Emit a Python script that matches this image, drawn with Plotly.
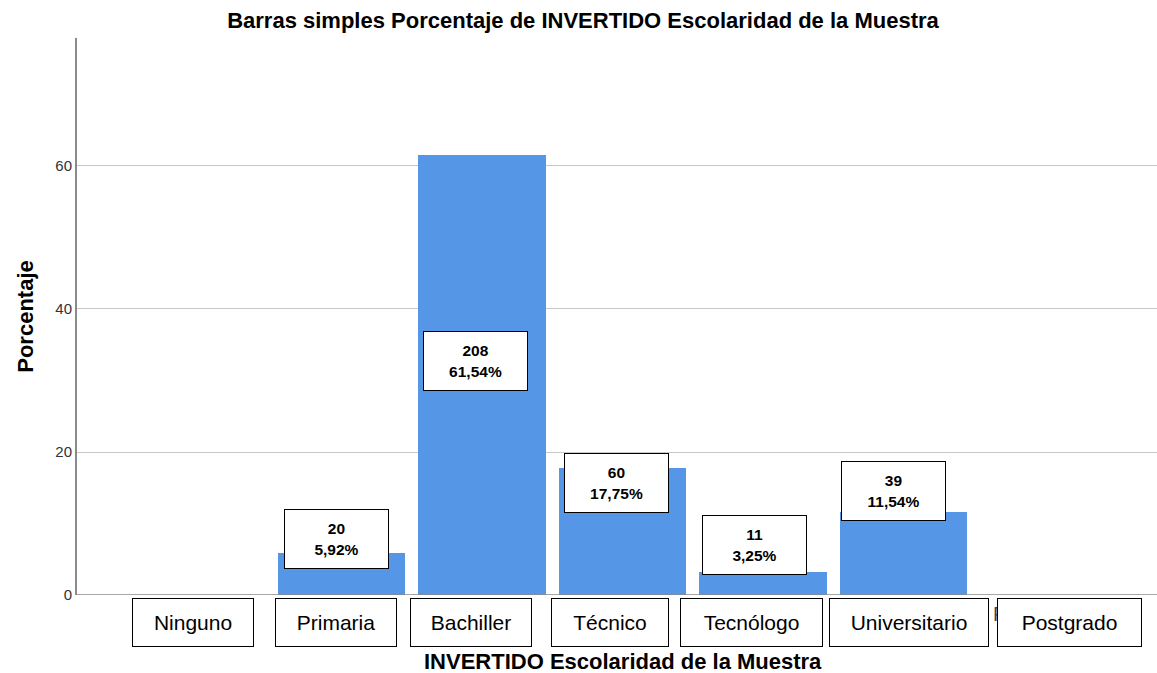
import plotly.graph_objects as go

# ---- data ----
categories = ["Ninguno", "Primaria", "Bachiller", "Técnico", "Tecnólogo", "Universitario", "Postgrado"]
counts = [0, 20, 208, 60, 11, 39, 0]
percentages = [0.0, 5.92, 61.54, 17.75, 3.25, 11.54, 0.0]
y_ticks = [0, 20, 40, 60]

# ---- layout helpers (positions of manually placed label boxes) ----
label_dx = [0, -0.036, -0.043, -0.046, -0.057, -0.068, 0]
label_y = [0, 7.83, 32.7, 15.7, 7.0, 14.5, 0]
tick_dx = [-0.06, -0.04, -0.08, -0.09, -0.08, 0.04, 0.18]

W, H = 1157, 673
L, R, T, B = 77, 0, 38, 78
PW, PH = W - L - R, H - T - B
FONT = "Liberation Sans, Arial"


def px_x(px):
    return (px - L) / PW


def px_y(py):
    return (H - B - py) / PH


idx = list(range(len(categories)))

fig = go.Figure()
fig.add_trace(go.Bar(
    x=idx, y=percentages, width=0.904,
    marker=dict(color="#5596e6", line=dict(width=0)),
    hoverinfo="skip",
))

annotations = []
# data label boxes
for i, (c, p) in enumerate(zip(counts, percentages)):
    if c == 0:
        continue
    pct = f"{p:.2f}".replace(".", ",") + "%"
    annotations.append(dict(
        x=i + label_dx[i], y=label_y[i], xref="x", yref="y",
        text=f"<b>{c}<br>{pct}</b>", showarrow=False,
        font=dict(family=FONT, size=15.5, color="black"),
        bgcolor="white", bordercolor="black", borderwidth=1,
        width=101, height=56, align="center",
    ))

# hidden original label peeking ("P")
annotations.append(dict(
    x=px_x(991), y=px_y(614), xref="paper", yref="paper", xanchor="left", yanchor="middle",
    text=categories[-1], showarrow=False,
    font=dict(family=FONT, size=20, color="#444"),
))

# category label boxes
box_w = [118, 118, 118, 114, 139, 156, 141]
for i, cat in enumerate(categories):
    annotations.append(dict(
        x=i + tick_dx[i], y=px_y(622), xref="x", yref="paper", yanchor="middle",
        text=cat, showarrow=False,
        font=dict(family=FONT, size=21, color="black"),
        bgcolor="white", bordercolor="black", borderwidth=1,
        width=box_w[i], height=45, align="center",
    ))

# x axis title
annotations.append(dict(
    x=px_x(623), y=px_y(661), xref="paper", yref="paper", yanchor="middle",
    text="<b>INVERTIDO Escolaridad de la Muestra</b>", showarrow=False,
    font=dict(family=FONT, size=22, color="black"),
))

x0 = 1 - (341.5 - L) / 140.5
x1 = x0 + PW / 140.5

fig.update_layout(
    width=W, height=H,
    margin=dict(l=L, r=R, t=T, b=B, autoexpand=False),
    paper_bgcolor="white", plot_bgcolor="white",
    showlegend=False,
    title=dict(text="<b>Barras simples Porcentaje de INVERTIDO Escolaridad de la Muestra</b>",
               x=583 / W, xanchor="center", y=1 - 20 / H, yanchor="middle",
               font=dict(family=FONT, size=22, color="black")),
    xaxis=dict(range=[x0, x1], showticklabels=False, showgrid=False, zeroline=False,
               showline=False, ticks=""),
    yaxis=dict(range=[0, 77.9], tickvals=y_ticks, showgrid=True, gridcolor="#c8c8c8", gridwidth=1,
               zeroline=False, showline=True, linecolor="#8a8a8a", linewidth=2, ticks="",
               tickfont=dict(family=FONT, size=15, color="#333"),
               title=dict(text="<b>Porcentaje</b>", standoff=16,
                          font=dict(family=FONT, size=22, color="black"))),
    annotations=annotations,
    bargap=0,
)
# bottom axis line
fig.add_hline(y=0, line=dict(color="#8a8a8a", width=1.5))

fig.write_html("out.html", config={"displayModeBar": False},
               post_script="document.body.style.margin='0';")
